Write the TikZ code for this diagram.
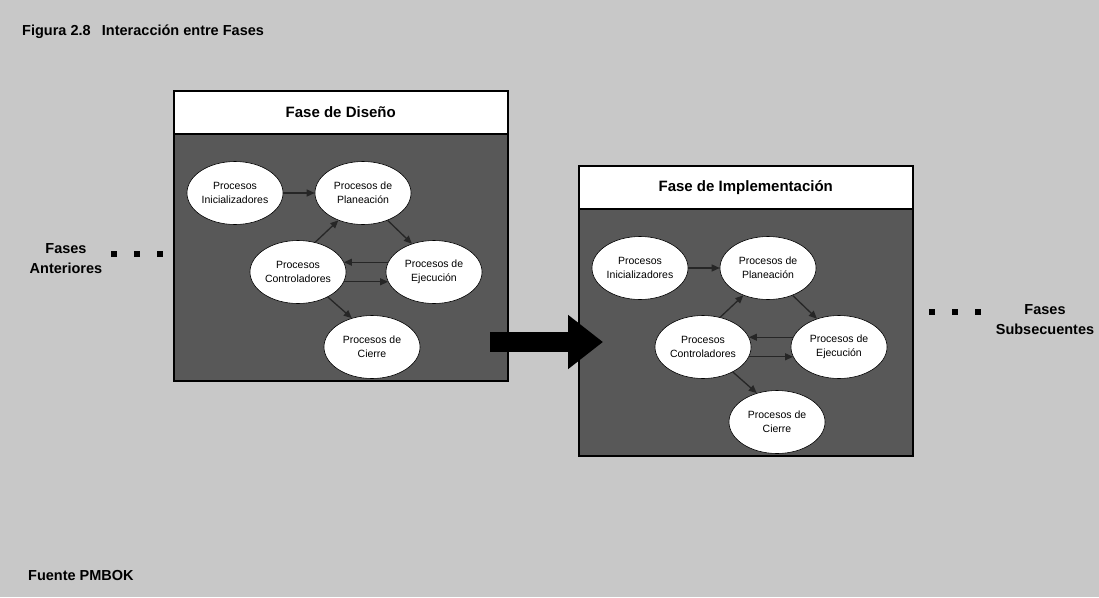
\documentclass[tikz,border=0pt]{standalone}
\usepackage{fontspec}
\setmainfont{Liberation Sans}
\usetikzlibrary{arrows.meta,shapes.geometric}
\definecolor{paper}{RGB}{200,200,200}
\definecolor{phasefill}{RGB}{88,88,88}
\tikzset{
  labeltext/.style={font=\fontsize{14.5}{20}\selectfont\bfseries, inner sep=0pt},
  phase/.style={draw=black, line width=1.5pt, fill=phasefill, minimum width=334pt,
    minimum height=290pt, anchor=north west, inner sep=0pt},
  phasehead/.style={draw=black, line width=1.5pt, fill=white, minimum width=334pt,
    minimum height=43pt, anchor=north west, inner sep=0pt,
    font=\fontsize{15}{18}\selectfont\bfseries},
  proc/.style={ellipse, draw=black, line width=0.6pt, fill=white, minimum width=96pt,
    minimum height=63pt, inner sep=0pt, align=center, font=\fontsize{10.5}{14}\selectfont},
  flow/.style={draw=black!85, line width=1.3pt, -{Triangle[length=8pt,width=7pt]}},
  marker/.style={fill=black, minimum size=6.5pt, inner sep=0pt},
  bigarrow/.style={draw=black, line width=20pt, -{Triangle[length=35pt,width=52pt]}},
}
\begin{document}
\begin{tikzpicture}[x=1pt,y=-1pt]
  % page
  \fill[paper] (0,0) rectangle (1099,597);
  \useasboundingbox (0,0) rectangle (1099,597);

  \node[labeltext, anchor=west] (title) at (22,32) {Figura 2.8\hspace{0.5em} Interacción entre Fases};
  \node[labeltext, anchor=west] (source) at (28,575) {Fuente PMBOK};

  % the two phases share the same inner process cycle
  \foreach \ox/\oy/\name/\p in {173/90/Fase de Diseño/a, 578/165/Fase de Implementación/b}{
    \begin{scope}[shift={(\ox,\oy)}]
      \node[phase] (\p-box) at (0,0) {};
      \node[phasehead] (\p-head) at (0,0) {\name};
      \node[proc] (\p-ini)    at (62,103)  {Procesos\\Inicializadores};
      \node[proc] (\p-plan)   at (190,103) {Procesos de\\Planeación};
      \node[proc] (\p-ctrl)   at (125,182) {Procesos\\Controladores};
      \node[proc] (\p-ejec)   at (261,182) {Procesos de\\Ejecución};
      \node[proc] (\p-cierre) at (199,257) {Procesos de\\Cierre};
      \draw[flow] (\p-ini.east) -- (\p-plan.west);
      \draw[flow] (\p-ctrl.60) -- (\p-plan.228);
      \draw[flow] (\p-plan.-48) -- (\p-ejec.128);
      \draw[flow] (\p-ejec.168) -- (\p-ctrl.12);
      \draw[flow] (\p-ctrl.-12) -- (\p-ejec.-168);
      \draw[flow] (\p-ctrl.-40) -- (\p-cierre.125);
    \end{scope}
  }

  % hand-over between the phases
  \coordinate (handfrom) at (490,342);
  \coordinate (handto) at (603,342);
  \draw[bigarrow] (handfrom) -- (handto);

  % earlier phases
  \node[labeltext, align=center] (prev) at (66,259) {Fases\\Anteriores};
  \node[marker] (prev1) at (114,254) {};
  \node[marker] (prev2) at (137,254) {};
  \node[marker] (prev3) at (160,254) {};

  % later phases
  \node[marker] (next1) at (932,312) {};
  \node[marker] (next2) at (955,312) {};
  \node[marker] (next3) at (978,312) {};
  \node[labeltext, align=center] (next) at (1045,320) {Fases\\Subsecuentes};
\end{tikzpicture}
\end{document}
